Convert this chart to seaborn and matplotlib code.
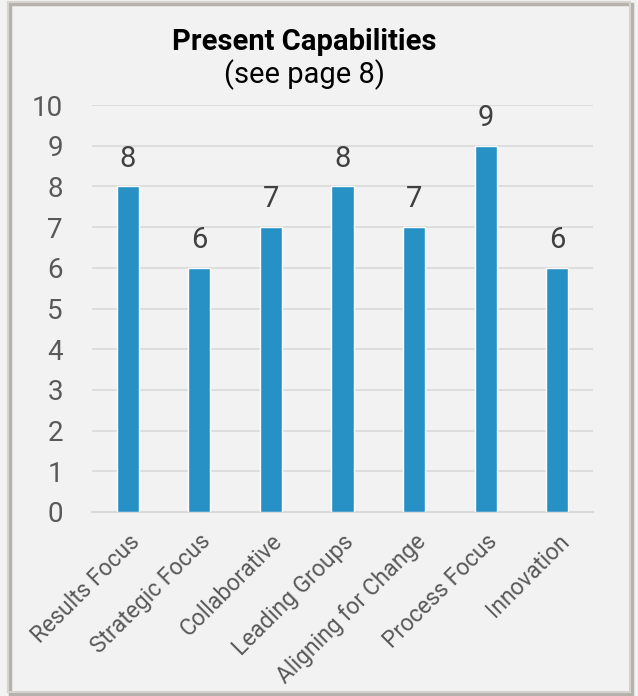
import matplotlib
matplotlib.use("Agg")
import matplotlib.pyplot as plt
import matplotlib.patches as mpatches
import seaborn as sns
import pandas as pd

categories = ["Results Focus", "Strategic Focus", "Collaborative", "Leading Groups",
              "Aligning for Change", "Process Focus", "Innovation"]
scores = [8, 6, 7, 8, 7, 9, 6]
yticks = list(range(0, 11))

df = pd.DataFrame({"category": categories, "score": scores})

sns.set_theme(style="white")
plt.rcParams["font.family"] = ["Roboto", "DejaVu Sans"]

BG = "#f2f2f2"
BAR = "#2790c5"

fig = plt.figure(figsize=(6.38, 6.96), dpi=100, facecolor=BG)
ax = fig.add_axes([92 / 638, 1 - 512 / 696, 501 / 638, 407 / 696])
ax.set_facecolor(BG)

sns.barplot(data=df, x="category", y="score", color=BAR, width=0.31,
            saturation=1, ax=ax, zorder=3)

ax.set_ylim(0, 10)
ax.set_yticks(yticks)
ax.set_xlim(-0.5, len(categories) - 0.5)
ax.grid(axis="y", color="#d9d9d9", linewidth=1.2, zorder=0)
ax.set_axisbelow(True)
for s in ["top", "right", "left"]:
    ax.spines[s].set_visible(False)
ax.spines["bottom"].set_color("#d9d9d9")
ax.spines["bottom"].set_linewidth(1.5)

ax.tick_params(axis="y", length=0, labelsize=20, labelcolor="#595959", pad=21)
ax.tick_params(axis="x", length=0, labelsize=16.5, labelcolor="#595959", pad=13)
ax.set_xticks(range(len(categories)))
ax.set_xticklabels(categories, rotation=45, ha="right", rotation_mode="anchor")
ax.set_xlabel("")
ax.set_ylabel("")

for i, v in enumerate(scores):
    ax.annotate(str(v), (i, v), xytext=(0, 10), textcoords="offset points",
                ha="center", va="bottom", fontsize=21, color="#404040")

# title block sits slightly left of the figure centre, as in the original
fig.text(304 / 638, 1 - 42 / 696, "Present Capabilities", ha="center", va="center",
         fontsize=21, fontweight="bold", color="black")
fig.text(304.5 / 638, 1 - 75 / 696, "(see page 8)", ha="center", va="center",
         fontsize=21, color="black")

# outer frame with a light shadow
fig.patches.append(mpatches.Rectangle((10 / 638, 2 / 696), 622 / 638, 690 / 696,
                                      transform=fig.transFigure, fill=False,
                                      edgecolor="#b5b2ad", linewidth=2.5, zorder=0))
fig.patches.append(mpatches.Rectangle((8 / 638, 4 / 696), 622 / 638, 690 / 696,
                                      transform=fig.transFigure, fill=False,
                                      edgecolor="#d6d3ce", linewidth=1.5, zorder=1))

fig.savefig("out.png", dpi=100, facecolor=BG)
